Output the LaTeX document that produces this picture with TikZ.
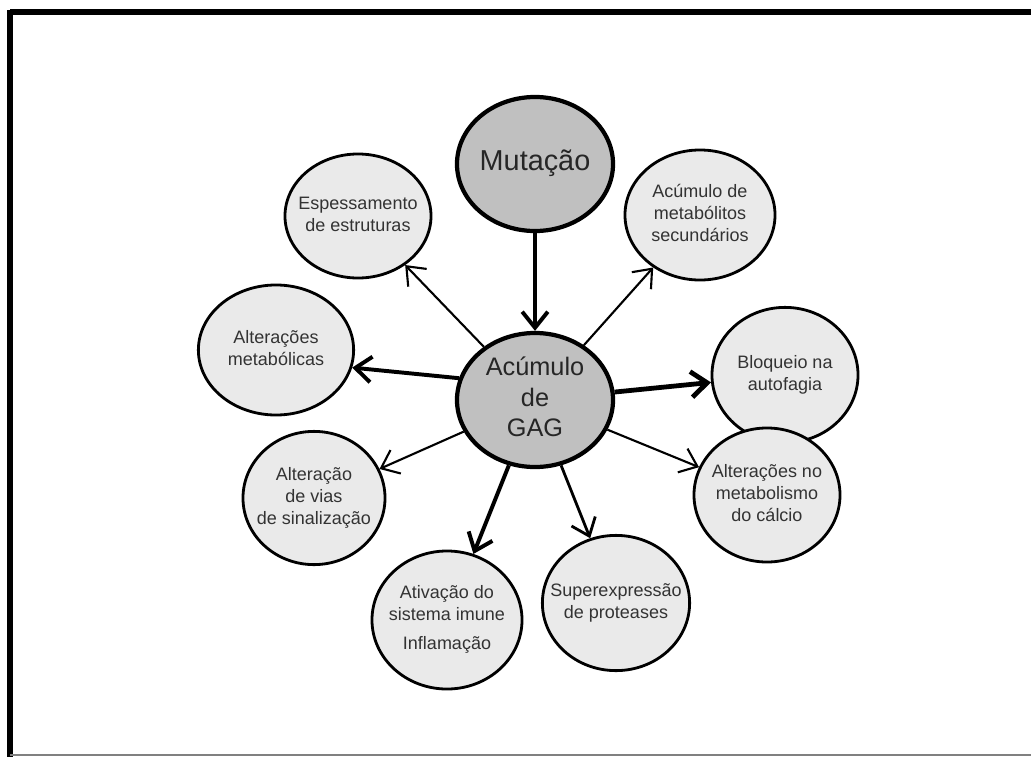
\documentclass[tikz,border=0pt]{standalone}
\usepackage{fontspec}
\setmainfont{Liberation Sans}
\usetikzlibrary{shapes.geometric,arrows.meta}
\definecolor{hubgrey}{RGB}{192,192,192}
\definecolor{satgrey}{RGB}{234,234,234}
\newcommand{\eltext}[1]{\makebox[0pt]{\begin{tabular}{@{}c@{}}#1\end{tabular}}}
\tikzset{
  sat/.style={ellipse, draw, fill=satgrey, line width=2pt, inner sep=0pt,
    minimum width=3.65cm, minimum height=3.3cm, text=black!80,
    font=\fontsize{12.8}{15.6}\selectfont},
  hub/.style={ellipse, draw, fill=hubgrey, line width=3pt, inner sep=0pt,
    minimum width=3.9cm, minimum height=3.35cm, text=black!85},
  link/.style={-{Straight Barb[length=4mm,width=6.4mm]}, line width=1.5pt},
  boldlink/.style={link, line width=2.8pt}
}
\begin{document}
\begin{tikzpicture}[x=0.025cm, y=-0.025cm]
\useasboundingbox (0,0) rectangle (1031,756);
% moldura
\draw[line width=4.5pt] (10,12) -- (1045,12);
\draw[line width=4.5pt] (10,10) -- (10,758);
\draw[line width=2pt, gray] (10,755) -- (1045,755);

% elipses centrais
\node[hub, font=\fontsize{20.5}{24}\selectfont] (mut) at (535,164) {\eltext{Mutação}};
\node[hub, font=\fontsize{18}{21.5}\selectfont] (gag) at (535,400) {\eltext{Acúmulo\\de\\GAG}};

% elipses externas
\node[sat, minimum height=3.1cm] (esp) at (358,216) {\eltext{Espessamento\\de estruturas}};
\node[sat, minimum width=3.75cm, minimum height=3.25cm] (sec) at (700,215) {\eltext{Acúmulo de\\metabólitos\\secundários}};
\node[sat, minimum width=3.88cm, minimum height=3.25cm] (met) at (276,350) {\eltext{Alterações\\metabólicas}};
\node[sat, minimum height=3.38cm] (blo) at (785,375) {\eltext{Bloqueio na\\autofagia}};
\node[sat, minimum width=3.55cm, minimum height=3.33cm] (vias) at (314,498) {\eltext{Alteração\\de vias\\de sinalização}};
\node[sat, minimum height=3.35cm] (cal) at (767,495) {\eltext{Alterações no\\metabolismo\\do cálcio}};
\node[sat, minimum width=3.75cm, minimum height=3.45cm] (ativ) at (447,620) {\eltext{Ativação do\\sistema imune\\[5pt]Inflamação}};
\node[sat, minimum width=3.68cm, minimum height=3.38cm] (sup) at (616,603) {\eltext{Superexpressão\\de proteases}};

% setas
\draw[boldlink] (mut) -- (gag);
\draw[link] (gag) -- (esp);
\draw[link] (gag) -- (sec);
\draw[boldlink] (gag.164) -- (met.-13);
\draw[boldlink, line width=3.4pt] (gag) -- (blo);
\draw[link] (gag) -- (vias);
\draw[link] (gag) -- (cal);
\draw[boldlink] (gag) -- (ativ);
\draw[link, line width=2pt] (gag) -- (sup);
\end{tikzpicture}
\end{document}
